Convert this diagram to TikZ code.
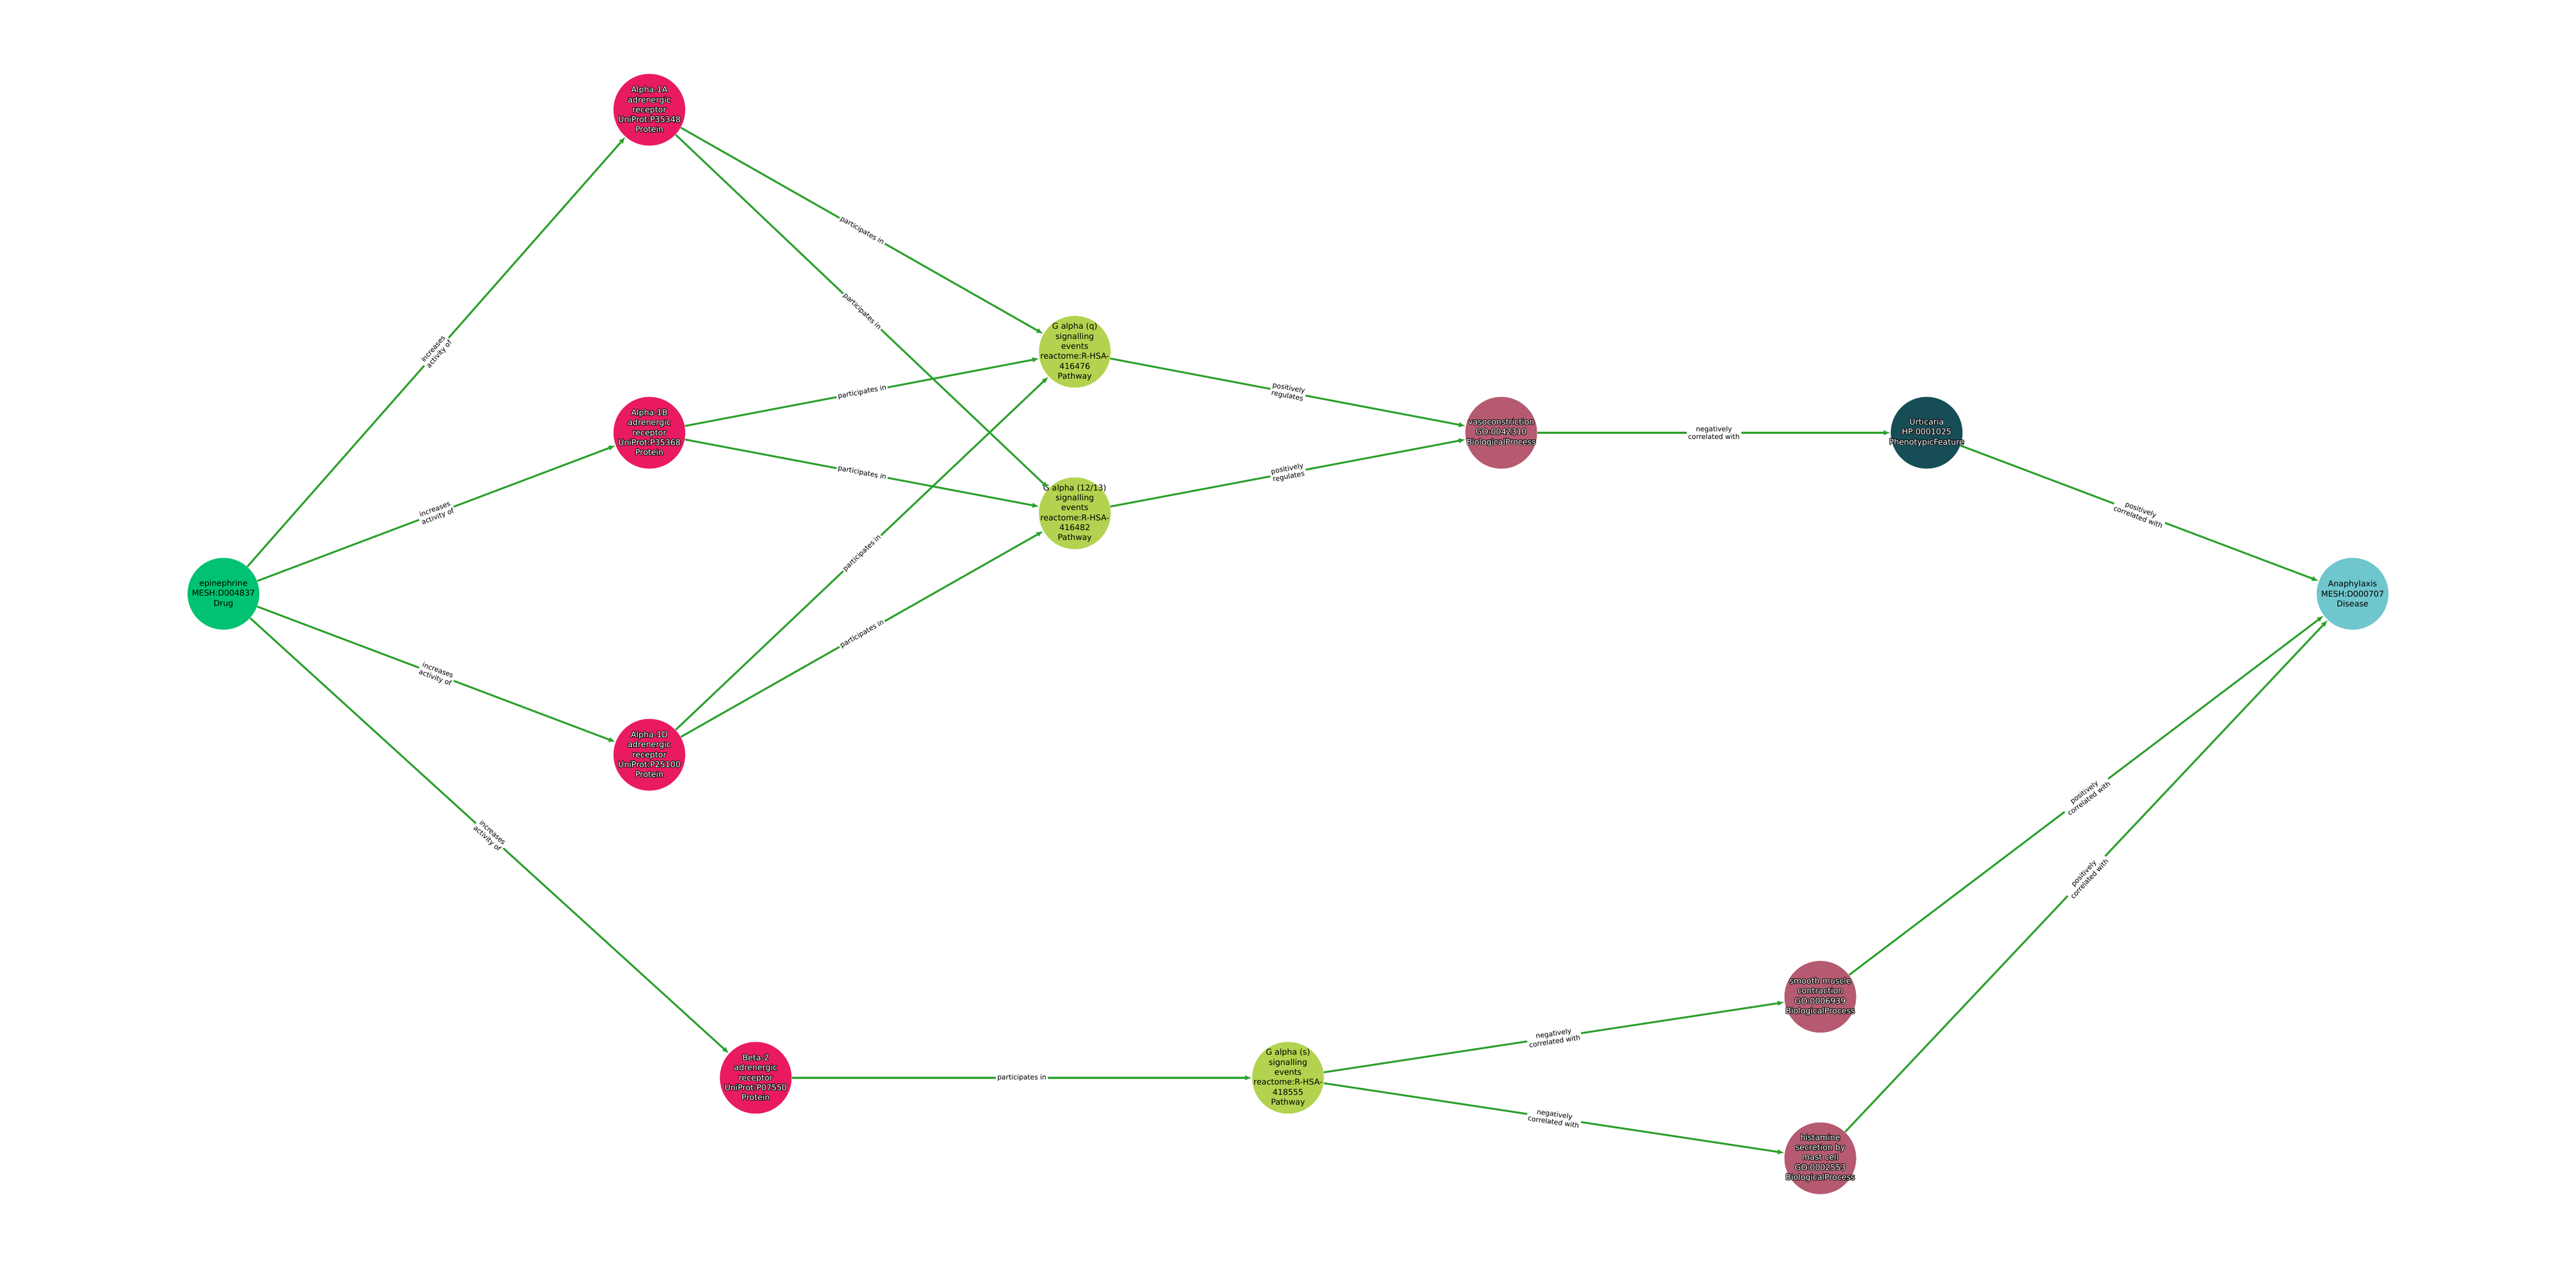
\documentclass[tikz,border=0pt]{standalone}
\usepackage{fontspec}
\setmainfont{DejaVu Sans}
\usepackage[copies]{contour}
\contourlength{0.3pt}
\usetikzlibrary{arrows.meta}

\definecolor{drugc}{RGB}{0,194,114}
\definecolor{protc}{RGB}{233,26,98}
\definecolor{pathc}{RGB}{179,211,80}
\definecolor{procc}{RGB}{181,90,112}
\definecolor{phenc}{RGB}{22,77,87}
\definecolor{disc}{RGB}{111,198,204}
\definecolor{edgec}{RGB}{44,160,44}

\newcommand{\wt}[1]{\contour{black}{#1}}

\begin{document}
\begin{tikzpicture}[
    every node/.style={font=\fontsize{4.7}{5.8}\selectfont},
    ent/.style={circle, minimum size=1.47cm, inner sep=0pt, fill=#1},
    btxt/.style={align=center, text=black, inner sep=0pt},
    wtxt/.style={align=center, text=white, inner sep=0pt},
    rel/.style={draw=edgec, line width=1.1pt, -{Latex[length=1.4mm,width=1.1mm]}},
    rlab/.style={midway, sloped, fill=white, inner sep=0.8pt, align=center, font=\fontsize{4}{4.6}\selectfont}
]
\useasboundingbox (0,0) rectangle (52.8,26);

% drug
\node[ent=drugc, label={[btxt]center:{epinephrine\\MESH:D004837\\Drug}}] (epi) at (4.58,13.83) {};

% receptors
\node[ent=protc, label={[wtxt]center:{\wt{Alpha-1A}\\\wt{adrenergic}\\\wt{receptor}\\\wt{UniProt:P35348}\\\wt{Protein}}}] (aA) at (13.31,23.75) {};
\node[ent=protc, label={[wtxt]center:{\wt{Alpha-1B}\\\wt{adrenergic}\\\wt{receptor}\\\wt{UniProt:P35368}\\\wt{Protein}}}] (aB) at (13.31,17.13) {};
\node[ent=protc, label={[wtxt]center:{\wt{Alpha-1D}\\\wt{adrenergic}\\\wt{receptor}\\\wt{UniProt:P25100}\\\wt{Protein}}}] (aD) at (13.31,10.53) {};
\node[ent=protc, label={[wtxt]center:{\wt{Beta-2}\\\wt{adrenergic}\\\wt{receptor}\\\wt{UniProt:P07550}\\\wt{Protein}}}] (b2) at (15.49,3.91) {};

% pathways
\node[ent=pathc, label={[btxt]center:{G alpha (q)\\signalling\\events\\reactome:R-HSA-\\416476\\Pathway}}] (gq) at (22.03,18.79) {};
\node[ent=pathc, label={[btxt]center:{G alpha (12/13)\\signalling\\events\\reactome:R-HSA-\\416482\\Pathway}}] (g12) at (22.03,15.48) {};
\node[ent=pathc, label={[btxt]center:{G alpha (s)\\signalling\\events\\reactome:R-HSA-\\418555\\Pathway}}] (gs) at (26.40,3.91) {};

% processes, phenotype, disease
\node[ent=procc, label={[wtxt]center:{\wt{vasoconstriction}\\\wt{GO:0042310}\\\wt{BiologicalProcess}}}] (vaso) at (30.77,17.13) {};
\node[ent=phenc, label={[wtxt]center:{\wt{Urticaria}\\\wt{HP:0001025}\\\wt{PhenotypicFeature}}}] (urt) at (39.49,17.13) {};
\node[ent=procc, label={[wtxt]center:{\wt{smooth muscle}\\\wt{contraction}\\\wt{GO:0006939}\\\wt{BiologicalProcess}}}] (smc) at (37.31,5.57) {};
\node[ent=procc, label={[wtxt]center:{\wt{histamine}\\\wt{secretion by}\\\wt{mast cell}\\\wt{GO:0002553}\\\wt{BiologicalProcess}}}] (hist) at (37.31,2.26) {};
\node[ent=disc, label={[btxt]center:{Anaphylaxis\\MESH:D000707\\Disease}}] (ana) at (48.22,13.83) {};

% edges
\foreach \t in {aA,aB,aD,b2} {
    \draw[rel] (epi) -- node[rlab] {increases\\activity of} (\t);
}
\foreach \s in {aA,aB,aD} {
    \foreach \t in {gq,g12} {
        \draw[rel] (\s) -- node[rlab] {participates in} (\t);
    }
}
\draw[rel] (b2) -- node[rlab] {participates in} (gs);
\foreach \s in {gq,g12} {
    \draw[rel] (\s) -- node[rlab] {positively\\regulates} (vaso);
}
\draw[rel] (vaso) -- node[rlab] {negatively\\correlated with} (urt);
\draw[rel] (urt) -- node[rlab] {positively\\correlated with} (ana);
\foreach \t in {smc,hist} {
    \draw[rel] (gs) -- node[rlab] {negatively\\correlated with} (\t);
    \draw[rel] (\t) -- node[rlab] {positively\\correlated with} (ana);
}
\end{tikzpicture}
\end{document}
